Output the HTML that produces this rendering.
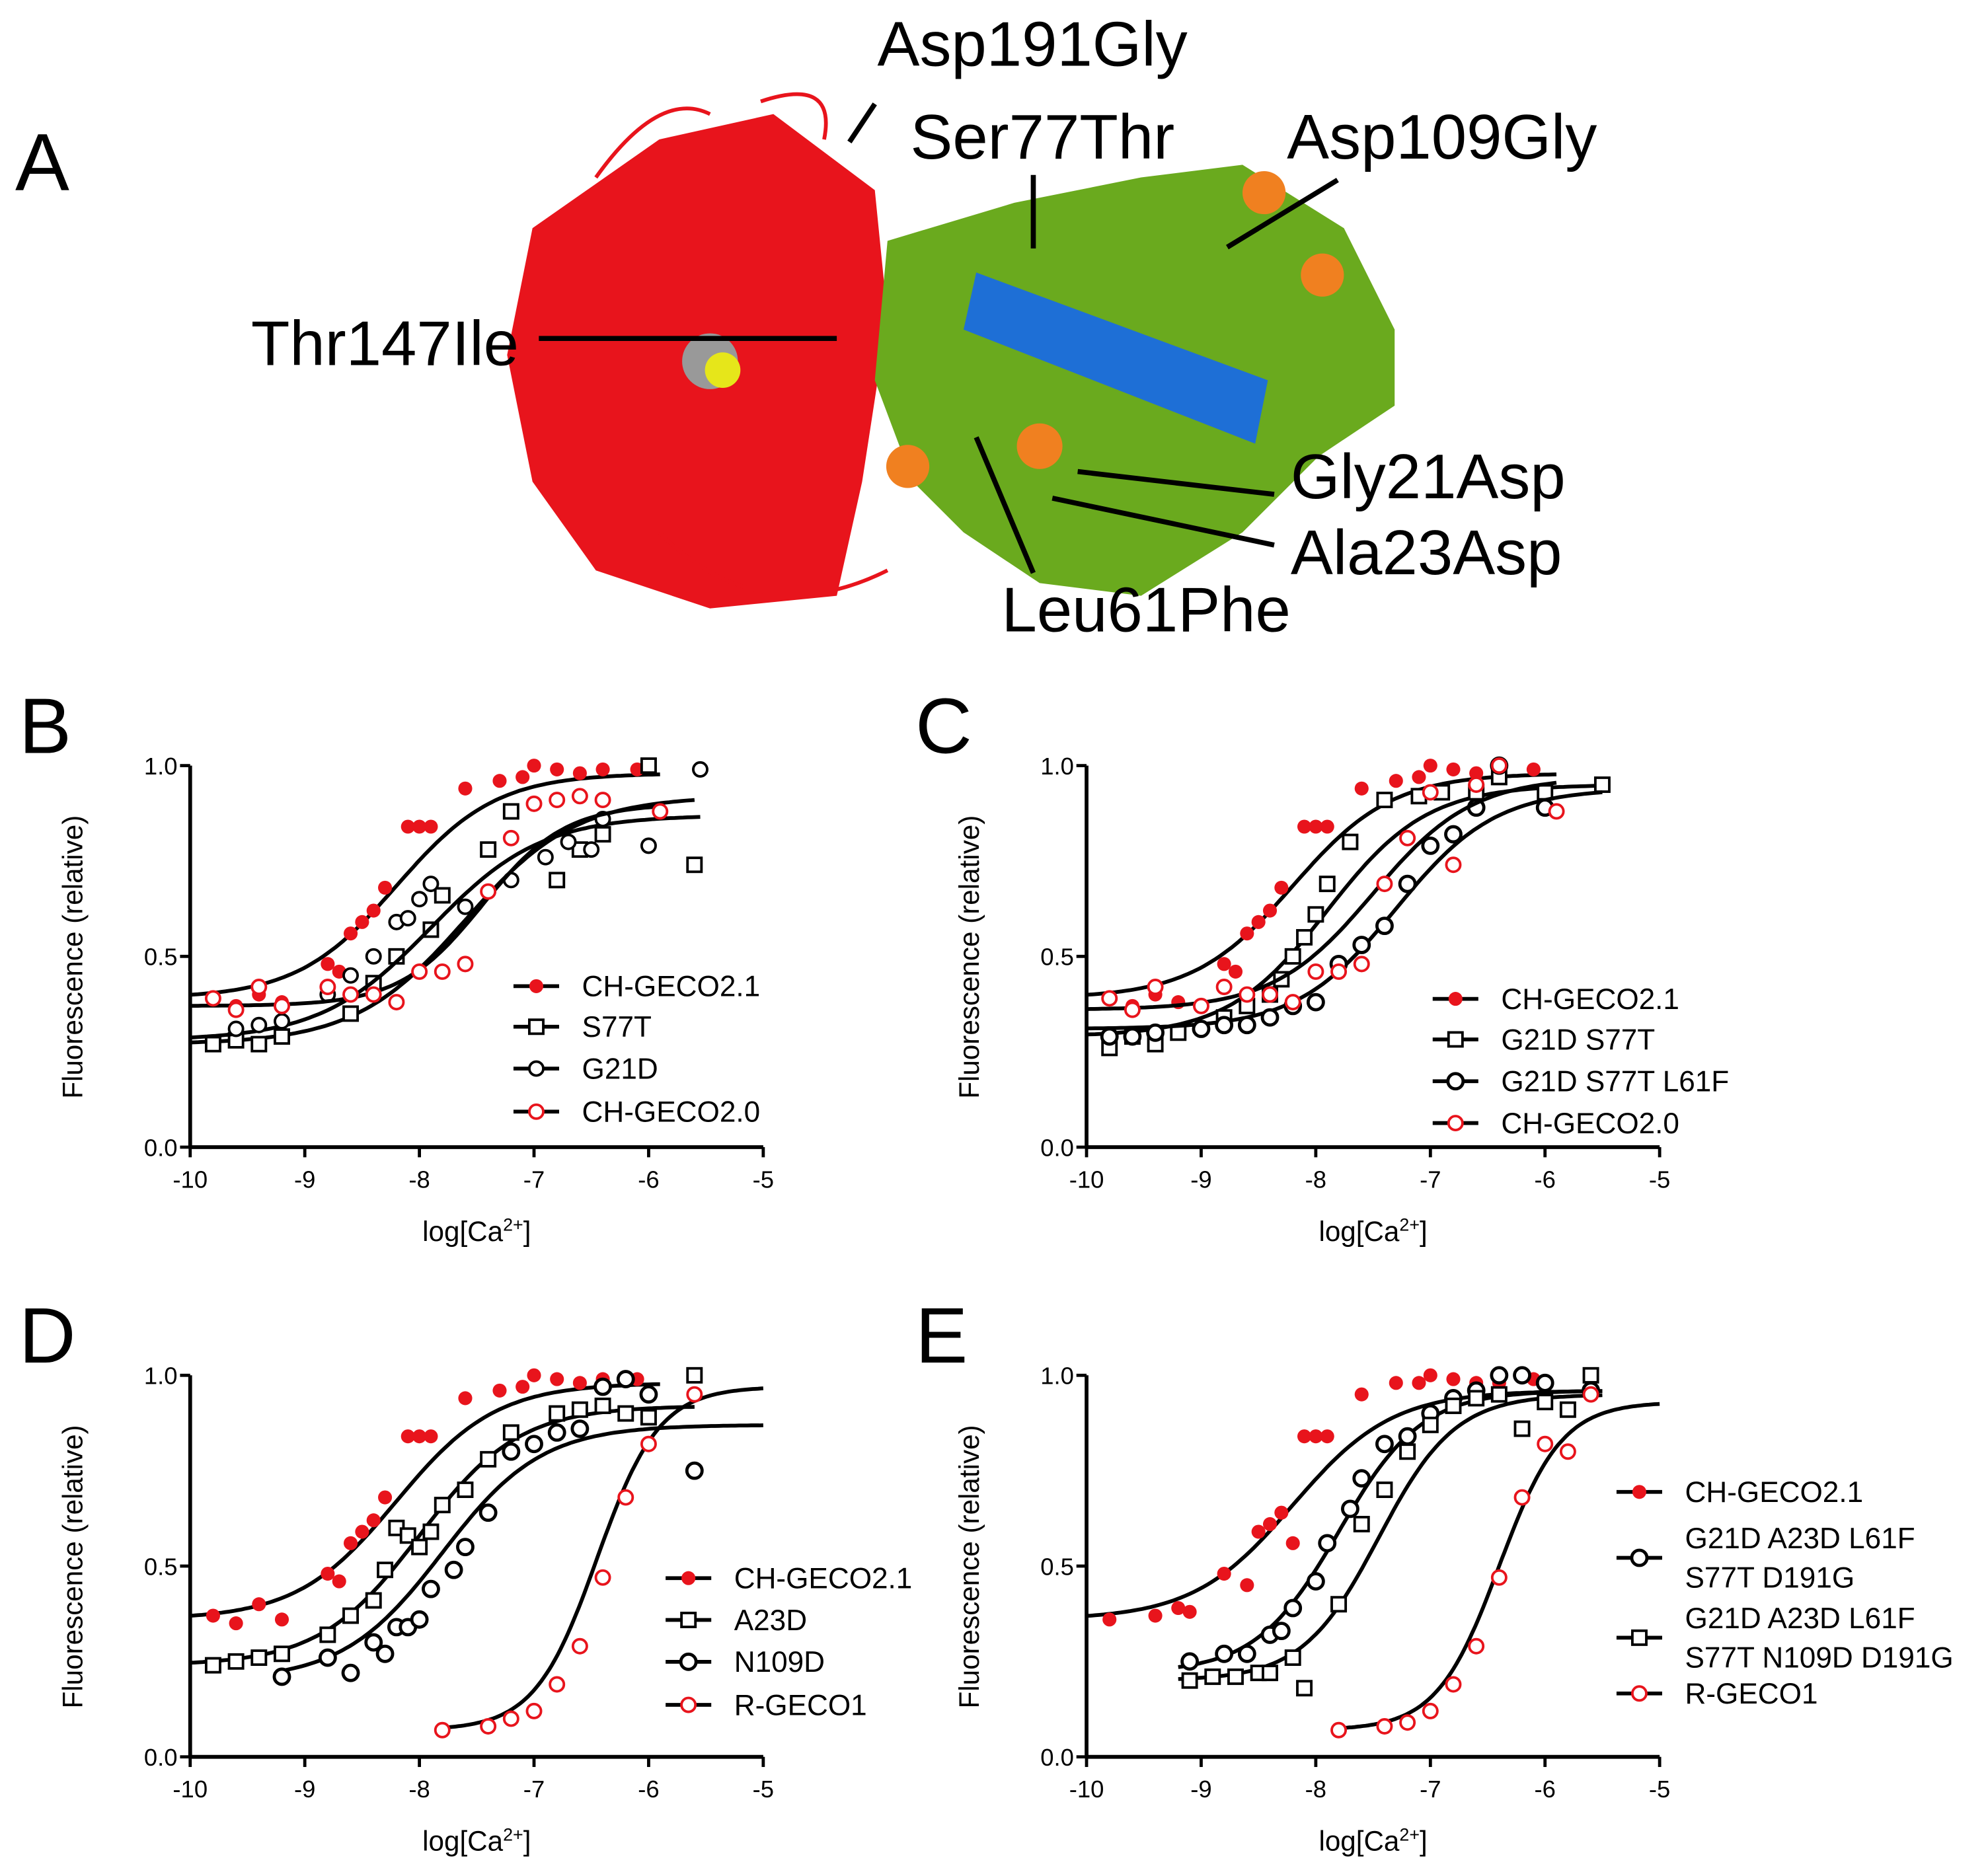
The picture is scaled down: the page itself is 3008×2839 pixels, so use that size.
<!DOCTYPE html>
<html><head><meta charset="utf-8"><style>
html,body{margin:0;padding:0;background:#fff}
svg{display:block}
text{font-family:"Liberation Sans",Arial,sans-serif}
</style></head><body>
<svg id="fig" xmlns="http://www.w3.org/2000/svg" width="3008" height="2839" viewBox="0 0 1568 1480" preserveAspectRatio="none">
<g id="panelA">
<text x="12" y="150" font-size="64">A</text>
<path d="M420,180 L520,110 L610,90 L690,150 L700,250 L680,380 L660,470 L560,480 L470,450 L420,380 L400,280 Z" fill="#e8141c"/>
<path d="M470,140 Q520,70 560,90 M600,80 Q660,60 650,110 M520,420 Q600,500 700,450" stroke="#e8141c" stroke-width="3" fill="none"/>
<path d="M700,190 L800,160 L900,140 L980,130 L1060,180 L1100,260 L1100,320 L1040,360 L980,420 L900,470 L820,460 L760,420 L720,380 L690,300 Z" fill="#6aaa1e"/>
<path d="M770,215 L1000,300 L990,350 L760,260 Z" fill="#1e6fd6"/>
<circle cx="560" cy="285" r="22" fill="#999"/><circle cx="570" cy="292" r="14" fill="#e6e61a"/>
<circle cx="997" cy="152" r="17" fill="#f08020"/><circle cx="1043" cy="217" r="17" fill="#f08020"/>
<circle cx="820" cy="352" r="18" fill="#f08020"/><circle cx="716" cy="368" r="17" fill="#f08020"/>
<g stroke="#000" stroke-width="4" fill="none">
<line x1="425" y1="267" x2="660" y2="267"/><line x1="670" y1="112" x2="690" y2="82"/>
<line x1="815" y1="138" x2="815" y2="196"/><line x1="968" y1="195" x2="1055" y2="142"/>
<line x1="850" y1="372" x2="1005" y2="390"/><line x1="830" y1="393" x2="1005" y2="430"/>
<line x1="770" y1="345" x2="815" y2="452"/>
</g>
<g font-size="50" fill="#000">
<text x="692" y="52">Asp191Gly</text><text x="718" y="125">Ser77Thr</text>
<text x="1015" y="125">Asp109Gly</text><text x="198" y="288">Thr147Ile</text>
<text x="1018" y="393">Gly21Asp</text><text x="1018" y="453">Ala23Asp</text>
<text x="790" y="498">Leu61Phe</text>
</g>
</g>
<g id="charts"></g>
</svg>
<script>
const bRedFit=[0.39,0.98,-8.2,1.0,-10,-5.9];
const bRedX=[-9.8,-9.6,-9.4,-9.2,-8.8,-8.7,-8.6,-8.5,-8.4,-8.3,-8.1,-8.0,-7.9,-7.6,-7.3,-7.1,-7.0,-6.8,-6.6,-6.4,-6.1];
const bRedY=[0.39,0.37,0.40,0.38,0.48,0.46,0.56,0.59,0.62,0.68,0.84,0.84,0.84,0.94,0.96,0.97,1.0,0.99,0.98,0.99,0.99];
const bSqFit=[0.27,0.92,-7.6,0.9,-10,-5.6];
const bSqX=[-9.8,-9.6,-9.4,-9.2,-8.6,-8.4,-8.2,-7.9,-7.8,-7.4,-7.2,-6.8,-6.6,-6.4,-6.0,-5.6];
const bSqY=[0.27,0.28,0.27,0.29,0.35,0.43,0.50,0.57,0.66,0.78,0.88,0.70,0.78,0.82,1.0,0.74];
const bCiFit=[0.28,0.87,-7.9,0.9,-10,-5.55];
const bCiX=[-9.6,-9.4,-9.2,-8.8,-8.6,-8.4,-8.2,-8.1,-8.0,-7.9,-7.6,-7.2,-6.9,-6.7,-6.5,-6.4,-6.0,-5.55];
const bCiY=[0.31,0.32,0.33,0.40,0.45,0.50,0.59,0.60,0.65,0.69,0.63,0.70,0.76,0.80,0.78,0.86,0.79,0.99];
const bRoFit=[0.37,0.90,-7.45,1.2,-10,-5.9];
const bRoX=[-9.8,-9.6,-9.4,-9.2,-8.8,-8.6,-8.4,-8.2,-8.0,-7.8,-7.6,-7.4,-7.2,-7.0,-6.8,-6.6,-6.4,-5.9];
const bRoY=[0.39,0.36,0.42,0.37,0.42,0.40,0.40,0.38,0.46,0.46,0.48,0.67,0.81,0.90,0.91,0.92,0.91,0.88];

const cSqFit=[0.29,0.95,-7.9,1.0,-10,-5.5];
const cSqX=[-9.8,-9.6,-9.4,-9.2,-8.8,-8.6,-8.4,-8.3,-8.2,-8.1,-8.0,-7.9,-7.7,-7.4,-7.1,-6.9,-6.6,-6.4,-6.0,-5.5];
const cSqY=[0.26,0.29,0.27,0.30,0.34,0.37,0.40,0.44,0.50,0.55,0.61,0.69,0.80,0.91,0.92,0.93,0.93,0.97,0.93,0.95];
const cCiFit=[0.31,0.94,-7.3,1.0,-10,-5.5];
const cCiX=[-9.8,-9.6,-9.4,-9.0,-8.8,-8.6,-8.4,-8.2,-8.0,-7.8,-7.6,-7.4,-7.2,-7.0,-6.8,-6.6,-6.4,-6.0];
const cCiY=[0.29,0.29,0.30,0.31,0.32,0.32,0.34,0.37,0.38,0.48,0.53,0.58,0.69,0.79,0.82,0.89,1.0,0.89];
const cRoFit=[0.36,0.97,-7.5,1.0,-10,-5.9];
const cRoX=[-9.8,-9.6,-9.4,-9.0,-8.8,-8.6,-8.4,-8.2,-8.0,-7.8,-7.6,-7.4,-7.2,-7.0,-6.8,-6.6,-6.4,-5.9];
const cRoY=[0.39,0.36,0.42,0.37,0.42,0.40,0.40,0.38,0.46,0.46,0.48,0.69,0.81,0.93,0.74,0.95,1.0,0.88];

const dRedFit=[0.36,0.98,-8.2,1.0,-10,-5.9];
const dSqFit=[0.24,0.92,-8.0,1.0,-10,-5.6];
const dSqX=[-9.8,-9.6,-9.4,-9.2,-8.8,-8.6,-8.4,-8.3,-8.2,-8.1,-8.0,-7.9,-7.8,-7.6,-7.4,-7.2,-6.8,-6.6,-6.4,-6.2,-6.0,-5.6];
const dSqY=[0.24,0.25,0.26,0.27,0.32,0.37,0.41,0.49,0.60,0.58,0.55,0.59,0.66,0.70,0.78,0.85,0.90,0.91,0.92,0.90,0.89,1.0];
const dCiFit=[0.20,0.87,-7.8,1.0,-9.2,-5.0];
const dCiX=[-9.2,-8.8,-8.6,-8.4,-8.3,-8.2,-8.1,-8.0,-7.9,-7.7,-7.6,-7.4,-7.2,-7.0,-6.8,-6.6,-6.4,-6.2,-6.0,-5.6];
const dCiY=[0.21,0.26,0.22,0.30,0.27,0.34,0.34,0.36,0.44,0.49,0.55,0.64,0.80,0.82,0.85,0.86,0.97,0.99,0.95,0.75];
const dRoFit=[0.07,0.97,-6.45,1.6,-7.8,-5.0];
const dRoX=[-7.8,-7.4,-7.2,-7.0,-6.8,-6.6,-6.4,-6.2,-6.0,-5.6];
const dRoY=[0.07,0.08,0.10,0.12,0.19,0.29,0.47,0.68,0.82,0.95];

const eRedFit=[0.36,0.96,-8.2,1.0,-10,-5.5];
const eRedX=[-9.8,-9.4,-9.2,-9.1,-8.8,-8.6,-8.5,-8.4,-8.3,-8.2,-8.1,-8.0,-7.9,-7.6,-7.3,-7.1,-7.0,-6.8,-6.6,-6.4,-6.1];
const eRedY=[0.36,0.37,0.39,0.38,0.48,0.45,0.59,0.61,0.64,0.56,0.84,0.84,0.84,0.95,0.98,0.98,1.0,0.99,0.98,0.98,0.99];
const eCiFit=[0.22,0.96,-7.8,1.2,-9.2,-5.5];
const eCiX=[-9.1,-8.8,-8.6,-8.4,-8.3,-8.2,-8.0,-7.9,-7.7,-7.6,-7.4,-7.2,-7.0,-6.8,-6.6,-6.4,-6.2,-6.0,-5.6];
const eCiY=[0.25,0.27,0.27,0.32,0.33,0.39,0.46,0.56,0.65,0.73,0.82,0.84,0.90,0.94,0.96,1.0,1.0,0.98,0.96];
const eSqFit=[0.20,0.95,-7.45,1.3,-9.2,-5.5];
const eSqX=[-9.1,-8.9,-8.7,-8.5,-8.4,-8.2,-8.1,-7.8,-7.6,-7.4,-7.2,-7.0,-6.8,-6.6,-6.4,-6.2,-6.0,-5.8,-5.6];
const eSqY=[0.20,0.21,0.21,0.22,0.22,0.26,0.18,0.40,0.61,0.70,0.80,0.87,0.92,0.94,0.95,0.86,0.93,0.91,1.0];
const eRoFit=[0.07,0.93,-6.4,1.6,-7.8,-5.0];
const eRoX=[-7.8,-7.4,-7.2,-7.0,-6.8,-6.6,-6.4,-6.2,-6.0,-5.8,-5.6];
const eRoY=[0.07,0.08,0.09,0.12,0.19,0.29,0.47,0.68,0.82,0.80,0.95];

const xTicks=[-10,-9,-8,-7,-6,-5];
const yTicks=[0,0.5,1.0];
const yTickLabels=["0.0","0.5","1.0"];

const NS="http://www.w3.org/2000/svg";
const root=document.getElementById('charts');
function mk(tag,attrs,parent){const e=document.createElementNS(NS,tag);for(const k in attrs)e.setAttribute(k,attrs[k]);(parent||root).appendChild(e);return e;}

function panel(label,ox,oy,series,legend){
  const g=mk('g',{});
  
  
  const x0=ox,x1=ox+452,yb=oy,yt=oy-301;
  const sx=v=>x0+(v+10)/5*(x1-x0);
  const sy=v=>yb-v*(yb-yt);
  const pl=mk('text',{x:ox-135,y:yt-10,'font-size':62},g);pl.textContent=label;
  
  
  mk('line',{x1:x0,y1:yb,x2:x1,y2:yb,stroke:'#000','stroke-width':3},g);
  mk('line',{x1:x0,y1:yb,x2:x0,y2:yt,stroke:'#000','stroke-width':3},g);
  xTicks.forEach(t=>{mk('line',{x1:sx(t),y1:yb,x2:sx(t),y2:yb+8,stroke:'#000','stroke-width':2.5},g);
    const tx=mk('text',{x:sx(t),y:yb+32,'font-size':19,'text-anchor':'middle'},g);tx.textContent=t;
    
    });
  yTicks.forEach((t,i)=>{mk('line',{x1:x0-8,y1:sy(t),x2:x0,y2:sy(t),stroke:'#000','stroke-width':2.5},g);
    const ty=mk('text',{x:x0-10,y:sy(t)+7,'font-size':19,'text-anchor':'end'},g);ty.textContent=yTickLabels[i];
    
    });
  const xl=mk('text',{x:(x0+x1)/2,y:yb+74,'font-size':22,'text-anchor':'middle'},g);
  xl.innerHTML='log[Ca<tspan dy="-8" font-size="14">2+</tspan><tspan dy="8">]</tspan>';
  
  
  const yl=mk('text',{x:0,y:0,'font-size':22,'text-anchor':'middle',transform:`translate(${ox-85},${yb-150}) rotate(-90)`},g);
  yl.textContent='Fluorescence (relative)';
  
  
  series.forEach(s=>{
    const [b,t,ec,h,xs,xe]=s.fit;let d='';
    for(let i=0;i<=120;i++){const v=xs+(xe-xs)*i/120;const y=b+(t-b)/(1+Math.pow(10,(ec-v)*h));d+=(i?'L':'M')+sx(v).toFixed(1)+','+sy(y).toFixed(1);}
    const p=mk('path',{d:d,fill:'none',stroke:'#000','stroke-width':3},g);
    
    
    if(s.x) s.x.forEach((v,i)=>{const m=marker(g,s.m,sx(v),sy(s.y[i]));
      
      });
  });
  legend.forEach(L=>{
    const lx=ox+L[0],ly=L[1];
    const ln=mk('line',{x1:lx,y1:ly,x2:lx+36,y2:ly,stroke:'#000','stroke-width':3},g);
    
    
    if(L[2])marker(g,L[2],lx+18,ly);
    L[3].forEach((txt,k)=>{const te=mk('text',{x:lx+54,y:ly+8+(k-(L[3].length-1)/2)*31+(L[4]||0),'font-size':23},g);te.textContent=txt;
      
      });
  });
}
function marker(g,type,x,y){
  if(type==='rf')return mk('circle',{cx:x,cy:y,r:5.5,fill:'#e8141c'},g);
  if(type==='ro')return mk('circle',{cx:x,cy:y,r:5.5,fill:'#fff',stroke:'#e8141c','stroke-width':2},g);
  if(type==='bo')return mk('circle',{cx:x,cy:y,r:5.5,fill:'#fff',stroke:'#000','stroke-width':2},g);
  if(type==='bo2')return mk('circle',{cx:x,cy:y,r:6,fill:'#fff',stroke:'#000','stroke-width':2.5},g);
  if(type==='bs')return mk('rect',{x:x-5.5,y:y-5.5,width:11,height:11,fill:'#fff',stroke:'#000','stroke-width':2},g);
}
const redB={fit:bRedFit,x:bRedX,y:bRedY,m:'rf'};
panel('B',150,905,[redB,{fit:bSqFit,x:bSqX,y:bSqY,m:'bs'},{fit:bCiFit,x:bCiX,y:bCiY,m:'bo'},{fit:bRoFit,x:bRoX,y:bRoY,m:'ro'}],
 [[255,778,'rf',['CH-GECO2.1']],[255,810,'bs',['S77T']],[255,843,'bo',['G21D']],[255,877,'ro',['CH-GECO2.0']]]);
panel('C',857,905,[{fit:bRedFit,x:bRedX,y:bRedY,m:'rf'},{fit:cSqFit,x:cSqX,y:cSqY,m:'bs'},{fit:cCiFit,x:cCiX,y:cCiY,m:'bo2'},{fit:cRoFit,x:cRoX,y:cRoY,m:'ro'}],
 [[273,788,'rf',['CH-GECO2.1']],[273,820,'bs',['G21D S77T']],[273,853,'bo2',['G21D S77T L61F']],[273,886,'ro',['CH-GECO2.0']]]);
panel('D',150,1386,[{fit:dRedFit,x:bRedX,y:bRedY.map(v=>v<0.4?v-0.02:v),m:'rf'},{fit:dSqFit,x:dSqX,y:dSqY,m:'bs'},{fit:dCiFit,x:dCiX,y:dCiY,m:'bo2'},{fit:dRoFit,x:dRoX,y:dRoY,m:'ro'}],
 [[375,1245,'rf',['CH-GECO2.1']],[375,1278,'bs',['A23D']],[375,1311,'bo2',['N109D']],[375,1345,'ro',['R-GECO1']]]);
panel('E',857,1386,[{fit:eRedFit,x:eRedX,y:eRedY,m:'rf'},{fit:eCiFit,x:eCiX,y:eCiY,m:'bo2'},{fit:eSqFit,x:eSqX,y:eSqY,m:'bs'},{fit:eRoFit,x:eRoX,y:eRoY,m:'ro'}],
 [[418,1177,'rf',['CH-GECO2.1']],[418,1229,'bo2',['G21D A23D L61F','S77T D191G']],[418,1292,'bs',['G21D A23D L61F','S77T N109D D191G']],[418,1336,'ro',['R-GECO1']]]);
</script>
</body></html>
